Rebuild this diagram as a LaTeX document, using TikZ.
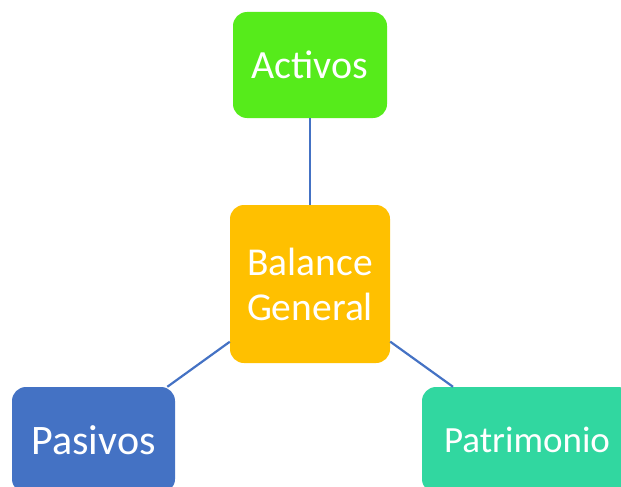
\documentclass[tikz,border=0pt]{standalone}
\usepackage{fontspec}
\setmainfont{Carlito}
\definecolor{verde}{HTML}{56EB1B}
\definecolor{amarillo}{HTML}{FFC000}
\definecolor{azul}{HTML}{4472C4}
\definecolor{turquesa}{HTML}{31D7A0}
\begin{document}
\begin{tikzpicture}[x=1pt,y=-1pt,
    caja/.style={rounded corners=14pt, text=white, align=center, inner sep=0pt},
    enlace/.style={draw=azul, line width=2.2pt}]
    % lienzo recortado como en el original
    \useasboundingbox (0,0) rectangle (621,487);
    \clip (0,0) rectangle (621,487);
    \node[caja, fill=verde, minimum width=154pt, minimum height=106pt,
        font=\fontsize{40}{44}\selectfont] (activos) at (310,65) {Activos};
    \node[caja, fill=amarillo, minimum width=160pt, minimum height=158pt,
        font=\fontsize{39.5}{45}\selectfont] (balance) at (310,284) {Balance\\General};
    \node[caja, fill=azul, minimum width=163pt, minimum height=106pt,
        font=\fontsize{42}{46}\selectfont] (pasivos) at (93.5,440) {Pasivos};
    \node[caja, fill=turquesa, minimum width=210pt, minimum height=106pt,
        font=\fontsize{37}{41}\selectfont] (patrimonio) at (527,440) {Patrimonio};
    \draw[enlace] (activos) -- (balance);
    \draw[enlace] (balance) -- (pasivos);
    \draw[enlace] (balance) -- (patrimonio);
\end{tikzpicture}
\end{document}
